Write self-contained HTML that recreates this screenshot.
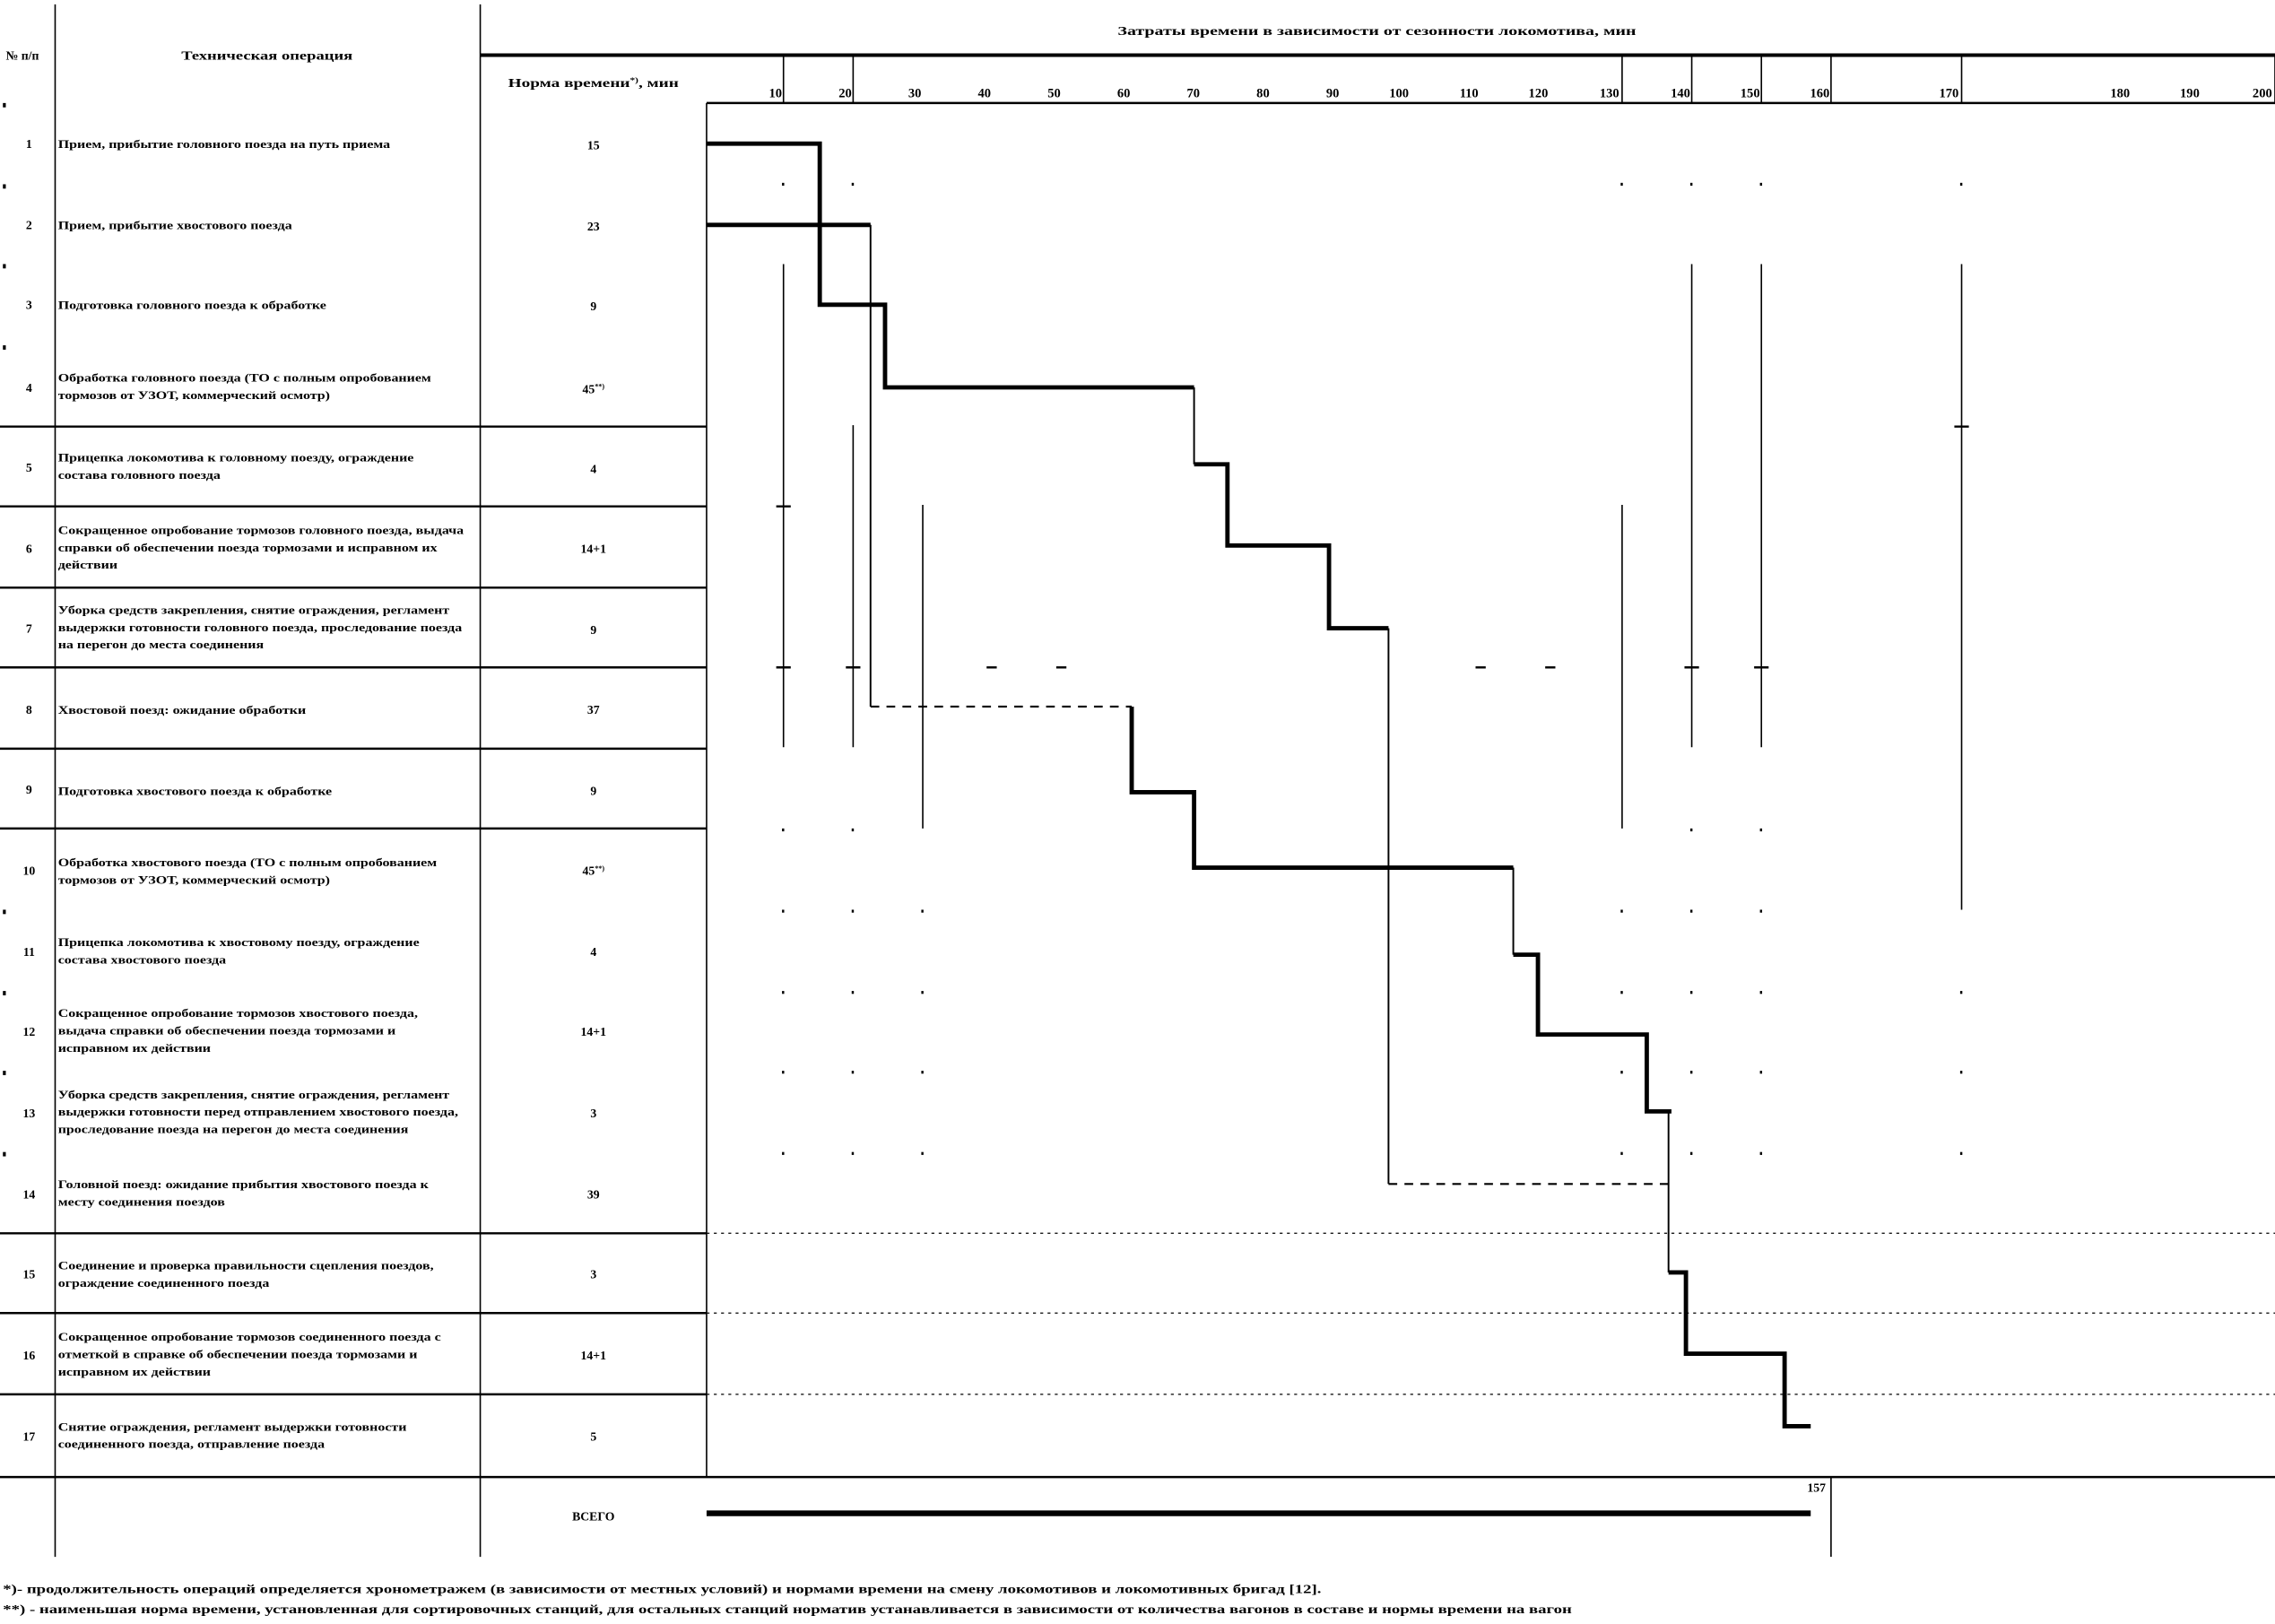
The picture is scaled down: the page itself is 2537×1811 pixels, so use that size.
<!DOCTYPE html>
<html><head><meta charset="utf-8"><style>
html,body{margin:0;padding:0;background:#fff;}
svg{display:block;}
text{font-family:"Liberation Serif",serif;font-weight:bold;fill:#000;}
</style></head><body>
<svg width="2537" height="1811" viewBox="0 0 1568 1119.3" preserveAspectRatio="none" xmlns="http://www.w3.org/2000/svg">
<rect width="1568" height="1119.3" fill="#fff"/>
<g stroke="#000" fill="none">
<line x1="38" y1="3" x2="38" y2="1073" stroke-width="1"/>
<line x1="331" y1="3" x2="331" y2="1073" stroke-width="1"/>
<line x1="487" y1="71" x2="487" y2="1018" stroke-width="1"/>
<line x1="331" y1="38" x2="1568" y2="38" stroke-width="2.5"/>
<line x1="487" y1="71" x2="1568" y2="71" stroke-width="1.5"/>
<line x1="1568" y1="38" x2="1568" y2="71" stroke-width="1"/>
<line x1="540" y1="38" x2="540" y2="71"/><line x1="588" y1="38" x2="588" y2="71"/>
<line x1="1118" y1="38" x2="1118" y2="71"/><line x1="1166" y1="38" x2="1166" y2="71"/>
<line x1="1214" y1="38" x2="1214" y2="71"/><line x1="1262" y1="38" x2="1262" y2="71"/>
<line x1="1352" y1="38" x2="1352" y2="71"/>
<g stroke-width="1.5">
<line x1="0" y1="294" x2="487" y2="294"/><line x1="0" y1="349" x2="487" y2="349"/>
<line x1="0" y1="405" x2="487" y2="405"/><line x1="0" y1="460" x2="487" y2="460"/>
<line x1="0" y1="516" x2="487" y2="516"/><line x1="0" y1="571" x2="487" y2="571"/>
<line x1="0" y1="850" x2="487" y2="850"/><line x1="0" y1="905" x2="487" y2="905"/>
<line x1="0" y1="961" x2="487" y2="961"/><line x1="0" y1="1018" x2="1568" y2="1018"/>
</g>
<line x1="1262" y1="1018" x2="1262" y2="1073"/>
<g stroke-dasharray="2,3" stroke-width="0.8">
<line x1="487" y1="850" x2="1568" y2="850"/><line x1="487" y1="905" x2="1568" y2="905"/><line x1="487" y1="961" x2="1568" y2="961"/>
</g>
<g stroke-width="1">
<line x1="540" y1="182" x2="540" y2="515"/><line x1="588" y1="293" x2="588" y2="515"/>
<line x1="636" y1="348" x2="636" y2="571"/><line x1="1118" y1="348" x2="1118" y2="571"/>
<line x1="1166" y1="182" x2="1166" y2="515"/><line x1="1214" y1="182" x2="1214" y2="515"/>
<line x1="1352" y1="182" x2="1352" y2="627"/>
</g>
<g stroke-width="1.5">
<line x1="680" y1="460" x2="687" y2="460"/><line x1="728" y1="460" x2="735" y2="460"/>
<line x1="1017" y1="460" x2="1024" y2="460"/><line x1="1065" y1="460" x2="1072" y2="460"/>
<line x1="535" y1="460" x2="545" y2="460"/><line x1="583" y1="460" x2="593" y2="460"/>
<line x1="1161" y1="460" x2="1171" y2="460"/><line x1="1209" y1="460" x2="1219" y2="460"/>
<line x1="1347" y1="294" x2="1357" y2="294"/><line x1="535" y1="349" x2="545" y2="349"/>
</g>
<g stroke-width="1.2">
<line x1="600" y1="155" x2="600" y2="487"/>
<line x1="823" y1="267" x2="823" y2="320"/>
<line x1="957" y1="433" x2="957" y2="816"/>
<line x1="1043" y1="598" x2="1043" y2="658"/>
<line x1="1150" y1="766" x2="1150" y2="877"/>
</g>
<g stroke-width="1.3" stroke-dasharray="6,5">
<line x1="600" y1="487" x2="780" y2="487"/>
<line x1="957" y1="816" x2="1150" y2="816"/>
</g>
<g stroke-width="3">
<polyline points="487,99 565,99 565,210 610,210 610,267 823,267"/>
<line x1="487" y1="155" x2="600" y2="155"/>
<polyline points="823,320 846,320 846,376 916,376 916,433 957,433"/>
<polyline points="780,487 780,546 823,546 823,598 1043,598"/>
<polyline points="1043,658 1060,658 1060,713 1135,713 1135,766 1152,766"/>
<polyline points="1150,877 1162,877 1162,933 1230,933 1230,983 1248,983"/>
<line x1="487" y1="1043" x2="1248" y2="1043" stroke-width="4"/>
</g>
</g>
<g fill="#000">
<rect x="539" y="126" width="1.5" height="2"/><rect x="587" y="126" width="1.5" height="2"/><rect x="1117" y="126" width="1.5" height="2"/><rect x="1165" y="126" width="1.5" height="2"/><rect x="1213" y="126" width="1.5" height="2"/><rect x="1351" y="126" width="1.5" height="2"/>
<rect x="539" y="627" width="1.5" height="2"/><rect x="587" y="627" width="1.5" height="2"/><rect x="635" y="627" width="1.5" height="2"/><rect x="1117" y="627" width="1.5" height="2"/><rect x="1165" y="627" width="1.5" height="2"/><rect x="1213" y="627" width="1.5" height="2"/>
<rect x="539" y="683" width="1.5" height="2"/><rect x="587" y="683" width="1.5" height="2"/><rect x="635" y="683" width="1.5" height="2"/><rect x="1117" y="683" width="1.5" height="2"/><rect x="1165" y="683" width="1.5" height="2"/><rect x="1213" y="683" width="1.5" height="2"/><rect x="1351" y="683" width="1.5" height="2"/>
<rect x="539" y="738" width="1.5" height="2"/><rect x="587" y="738" width="1.5" height="2"/><rect x="635" y="738" width="1.5" height="2"/><rect x="1117" y="738" width="1.5" height="2"/><rect x="1165" y="738" width="1.5" height="2"/><rect x="1213" y="738" width="1.5" height="2"/><rect x="1351" y="738" width="1.5" height="2"/>
<rect x="539" y="794" width="1.5" height="2"/><rect x="587" y="794" width="1.5" height="2"/><rect x="635" y="794" width="1.5" height="2"/><rect x="1117" y="794" width="1.5" height="2"/><rect x="1165" y="794" width="1.5" height="2"/><rect x="1213" y="794" width="1.5" height="2"/><rect x="1351" y="794" width="1.5" height="2"/>
<rect x="539" y="571" width="1.5" height="2"/><rect x="587" y="571" width="1.5" height="2"/><rect x="1165" y="571" width="1.5" height="2"/><rect x="1213" y="571" width="1.5" height="2"/>
<rect x="2" y="71" width="2" height="3"/><rect x="2" y="127" width="2" height="3"/><rect x="2" y="182" width="2" height="3"/><rect x="2" y="238" width="2" height="3"/><rect x="2" y="627" width="2" height="3"/><rect x="2" y="683" width="2" height="3"/><rect x="2" y="738" width="2" height="3"/><rect x="2" y="794" width="2" height="3"/>
</g>
<g font-size="8.5">
<text x="4" y="41">№ п/п</text>
<g transform="translate(184,0) scale(1.35,1)"><text x="0" y="41" text-anchor="middle">Техническая операция</text></g>
<g transform="translate(949,0) scale(1.45,1)"><text x="0" y="24" text-anchor="middle">Затраты времени  в зависимости от сезонности локомотива, мин</text></g>
<g transform="translate(409,0) scale(1.4,1)"><text x="0" y="60" text-anchor="middle">Норма времени<tspan font-size="5" dy="-3">*)</tspan><tspan dy="3">, мин</tspan></text></g>
</g>
<g font-size="9" text-anchor="end">
<text x="539" y="67">10</text><text x="587" y="67">20</text><text x="635" y="67">30</text><text x="683" y="67">40</text><text x="731" y="67">50</text><text x="779" y="67">60</text><text x="827" y="67">70</text><text x="875" y="67">80</text><text x="923" y="67">90</text><text x="971" y="67">100</text><text x="1019" y="67">110</text><text x="1067" y="67">120</text><text x="1116" y="67">130</text><text x="1165" y="67">140</text><text x="1213" y="67">150</text><text x="1261" y="67">160</text><text x="1350" y="67">170</text><text x="1468" y="67">180</text><text x="1516" y="67">190</text><text x="1566" y="67">200</text>
</g>
<g font-size="8.5" text-anchor="middle">
<text x="20" y="102">1</text><text x="409" y="103">15</text>
<text x="20" y="158">2</text><text x="409" y="159">23</text>
<text x="20" y="213">3</text><text x="409" y="214">9</text>
<text x="20" y="270">4</text><text x="409" y="271">45<tspan font-size="5" dy="-3">**)</tspan></text>
<text x="20" y="325">5</text><text x="409" y="326">4</text>
<text x="20" y="381">6</text><text x="409" y="381">14+1</text>
<text x="20" y="436">7</text><text x="409" y="437">9</text>
<text x="20" y="492">8</text><text x="409" y="492">37</text>
<text x="20" y="547">9</text><text x="409" y="548">9</text>
<text x="20" y="603">10</text><text x="409" y="603">45<tspan font-size="5" dy="-3">**)</tspan></text>
<text x="20" y="659">11</text><text x="409" y="659">4</text>
<text x="20" y="714">12</text><text x="409" y="714">14+1</text>
<text x="20" y="770">13</text><text x="409" y="770">3</text>
<text x="20" y="826">14</text><text x="409" y="826">39</text>
<text x="20" y="881">15</text><text x="409" y="881">3</text>
<text x="20" y="937">16</text><text x="409" y="937">14+1</text>
<text x="20" y="993">17</text><text x="409" y="993">5</text>
<text x="409" y="1048">ВСЕГО</text>
<text x="1252" y="1028">157</text>
</g>
<g font-size="7.6" transform="translate(40,0) scale(1.3,1)">
<text x="0" y="102">Прием, прибытие головного поезда на путь приема</text>
<text x="0" y="158">Прием, прибытие хвостового поезда</text>
<text x="0" y="213">Подготовка головного поезда к обработке</text>
<text x="0" y="263">Обработка головного поезда (ТО с полным опробованием</text>
<text x="0" y="275">тормозов от УЗОТ, коммерческий осмотр)</text>
<text x="0" y="318">Прицепка локомотива к головному поезду, ограждение</text>
<text x="0" y="330">состава головного поезда</text>
<text x="0" y="368">Сокращенное опробование тормозов головного поезда, выдача</text>
<text x="0" y="380">справки об обеспечении поезда тормозами и исправном их</text>
<text x="0" y="392">действии</text>
<text x="0" y="423">Уборка средств закрепления, снятие ограждения, регламент</text>
<text x="0" y="435">выдержки готовности  головного поезда, проследование поезда</text>
<text x="0" y="447">на перегон до места соединения</text>
<text x="0" y="492">Хвостовой поезд: ожидание обработки</text>
<text x="0" y="548">Подготовка хвостового поезда к обработке</text>
<text x="0" y="597">Обработка хвостового поезда (ТО с полным опробованием</text>
<text x="0" y="609">тормозов от УЗОТ, коммерческий осмотр)</text>
<text x="0" y="652">Прицепка локомотива к хвостовому поезду, ограждение</text>
<text x="0" y="664">состава хвостового поезда</text>
<text x="0" y="701">Сокращенное опробование тормозов хвостового поезда,</text>
<text x="0" y="713">выдача справки об обеспечении поезда тормозами и</text>
<text x="0" y="725">исправном их действии</text>
<text x="0" y="757">Уборка средств закрепления, снятие ограждения, регламент</text>
<text x="0" y="769">выдержки готовности перед отправлением хвостового поезда,</text>
<text x="0" y="781">проследование поезда на перегон до места соединения</text>
<text x="0" y="819">Головной поезд: ожидание прибытия хвостового поезда к</text>
<text x="0" y="831">месту соединения поездов</text>
<text x="0" y="875">Соединение и проверка правильности сцепления поездов,</text>
<text x="0" y="887">ограждение соединенного поезда</text>
<text x="0" y="924">Сокращенное опробование тормозов соединенного поезда с</text>
<text x="0" y="936">отметкой в справке об обеспечении поезда тормозами и</text>
<text x="0" y="948">исправном их действии</text>
<text x="0" y="986">Снятие ограждения, регламент выдержки готовности</text>
<text x="0" y="998">соединенного поезда, отправление поезда</text>
</g>
<g font-size="8.3" transform="translate(2,0) scale(1.4,1)">
<text x="0" y="1098">*)- продолжительность операций определяется хронометражем (в зависимости от местных условий) и нормами времени на смену локомотивов и локомотивных бригад [12].</text>
<text x="0" y="1112">**) - наименьшая норма времени, установленная для сортировочных станций, для остальных станций норматив устанавливается в зависимости от количества вагонов в составе и нормы времени на вагон</text>
</g>
</svg>
</body></html>
